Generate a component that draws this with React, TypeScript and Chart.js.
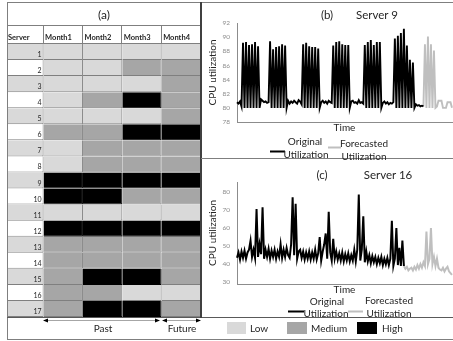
import React, { useEffect, useRef } from 'react';
import { Chart, registerables } from 'chart.js';

Chart.register(...registerables);

const FONT = 'Lato, "Liberation Sans", Arial, sans-serif';
const TEXT = '#262626';
const AXIS = '#8c8c8c';

// ---------- (a) table ----------
const servers = ['1', '2', '3', '4', '5', '6', '7', '8', '9', '10', '11', '12', '13', '14', '15', '16', '17'];
const columnHeaders = ['Server', 'Month1', 'Month2', 'Month3', 'Month4'];
const month1 = ['Low', 'Low', 'Low', 'Low', 'Low', 'Medium', 'Low', 'Low', 'High', 'High', 'Low', 'High', 'Medium', 'Medium', 'Medium', 'Medium', 'Medium'];
const month2 = ['Low', 'Low', 'Low', 'Medium', 'Low', 'Medium', 'Medium', 'Medium', 'High', 'High', 'Low', 'High', 'Medium', 'Medium', 'High', 'Medium', 'High'];
const month3 = ['Low', 'Medium', 'Low', 'High', 'Low', 'High', 'Medium', 'Medium', 'High', 'Medium', 'Low', 'High', 'Medium', 'Medium', 'High', 'Low', 'High'];
const month4 = ['Low', 'Medium', 'Medium', 'Medium', 'Medium', 'High', 'Medium', 'Medium', 'High', 'Medium', 'Low', 'High', 'Medium', 'Medium', 'Medium', 'Low', 'Medium'];
const levelNames = ['Low', 'Medium', 'High'];
const levelColors = ['#d9d9d9', '#a6a6a6', '#000000'];

// ---------- (b) Server 9 ----------
const server9Original = [
  80.8, 80.6, 80.9, 80.2,
  89.2, 80, 89.3, 80, 88.9, 80, 89.0, 80, 89.3, 80, 88.7, 80,
  81.2, 81.0, 80.8, 80.9, 80.7, 80.8,
  89.4, 80, 88.3, 80, 88.6, 80, 88.7, 80, 89.0, 80, 88.8, 80,
  81.0, 80.6, 80.9, 80.7, 81.0, 80.8, 80.6, 81.1, 80.9, 80.5,
  89.0, 80, 89.2, 80, 88.7, 80, 88.6, 80, 88.6, 80, 88.4, 80,
  80.8, 81.0, 80.7, 80.9, 80.6, 81.0, 80.8, 80.7,
  88.8, 80, 89.3, 80, 89.4, 80, 89.0, 80, 88.9, 80, 88.9, 80,
  80.9, 81.0, 80.7, 80.8, 80.6, 81.1, 80.7, 80.8, 80.6,
  88.9, 80, 89.3, 80, 89.6, 80, 88.9, 80, 89.3, 80, 89.3, 80,
  80.7, 80.9, 80.6, 80.8, 80.5, 80.7, 80.6, 80.8,
  89.8, 80, 90.2, 80, 90.6, 80, 91.2, 80, 88.8, 80, 86.8, 80, 86.4, 80,
  80.5, 80.3, 80.4, 80.2, 80.3, 80.2,
];
const server9Forecast = [80.2, 89.0, 80, 90.1, 80, 89.0, 80, 88.1, 80, 80.2, 81, 81, 81, 80, 80, 80, 80.8, 80.8, 80.8, 80];
const server9Range = [78, 92, 2];

// ---------- (c) Server 16 ----------
const server16Original = [
  43.5, 46.5, 42.5, 47, 43.5, 47.5, 43, 46.5, 48, 53,
  44, 48, 43.5, 70.5, 44, 51, 45.5, 71.5, 43, 48,
  44, 48.5, 43, 47.5, 44, 48, 43, 47, 44, 51,
  43.5, 48, 44, 49, 45, 43.5, 51, 77, 45, 73.5,
  43, 47, 48, 43.5, 47, 42.5, 46.5, 43, 47, 42.5,
  46.5, 43, 48, 42.5, 46, 55, 42, 47, 51, 57,
  43, 69, 46.5, 42, 54, 43, 47, 42.5, 46, 42,
  46.5, 41.5, 45.5, 42, 46, 41.5, 45, 42, 48, 41.5,
  48, 78.5, 42, 48, 66.5, 41, 47, 41.5, 45, 40.5,
  44.5, 41, 44, 40, 43.5, 40.5, 44, 39.5, 43, 40,
  43.5, 39.5, 43, 64, 39, 43, 60, 39.5, 49, 39,
  53, 39,
];
const server16Forecast = [
  39, 37.5, 38.5, 36.5, 37.5, 38, 36.5, 38.5, 37, 39.5,
  37.5, 40, 38, 41, 39, 58, 40, 43, 60, 40,
  44, 39, 43, 38, 37, 36.5, 38, 36, 37.5, 38.5,
  36, 35, 34,
];
const server16Range = [29, 85.5, 10];

const tableDecor = {
  id: 'tableDecor',
  afterDraw(chart: any) {
    const { ctx, chartArea, scales } = chart;
    const { left, right, top } = chartArea;
    const x = scales.x;
    const y = scales.y;
    const h = 19;
    ctx.save();
    ctx.strokeStyle = '#7f7f7f';
    ctx.lineWidth = 1;
    ctx.beginPath();
    ctx.moveTo(left, Math.round(top - h) + 0.5);
    ctx.lineTo(right, Math.round(top - h) + 0.5);
    ctx.moveTo(left, Math.round(top) - 0.5);
    ctx.lineTo(right, Math.round(top) - 0.5);
    for (let k = 1; k <= 5; k++) {
      const px = Math.round(x.getPixelForValue(k)) - 0.5;
      ctx.moveTo(px, top - h);
      ctx.lineTo(px, top);
    }
    ctx.stroke();
    ctx.fillStyle = TEXT;
    ctx.font = `bold 7.5px ${FONT}`;
    ctx.textBaseline = 'middle';
    ctx.textAlign = 'left';
    columnHeaders.forEach((t, k) => {
      const px = k === 0 ? left + 1 : x.getPixelForValue(k) + 1.5;
      ctx.fillText(t, px, top - 6);
    });
    ctx.font = `7px ${FONT}`;
    ctx.textAlign = 'right';
    ctx.textBaseline = 'alphabetic';
    const rowH = (chartArea.bottom - top) / servers.length;
    servers.forEach((s, i) => {
      const yc = y.getPixelForValue(i);
      ctx.fillText(s, x.getPixelForValue(1) - 2, yc + rowH / 2 - 3);
    });
    ctx.restore();
  },
};

function TableChart() {
  const ref = useRef<HTMLCanvasElement>(null);
  useEffect(() => {
    const months = [month1, month2, month3, month4];
    const colorOf = (l: string) => levelColors[levelNames.indexOf(l)];
    const common = {
      borderWidth: { top: 0, left: 0, right: 1, bottom: 1 },
      borderSkipped: false,
      barPercentage: 1,
      categoryPercentage: 1,
      clip: 0,
      inflateAmount: 0,
    };
    const datasets: any[] = [
      {
        label: columnHeaders[0],
        data: servers.map(() => 1),
        backgroundColor: servers.map((_, i) => (i % 2 === 0 ? '#d9d9d9' : '#ffffff')),
        borderColor: '#7f7f7f',
        ...common,
      },
      ...months.map((m, k) => ({
        label: columnHeaders[k + 1],
        data: m.map(() => 1),
        backgroundColor: m.map(colorOf),
        borderColor: m.map((l) => (l === 'High' ? '#000000' : '#7f7f7f')),
        ...common,
      })),
    ];
    const chart = new Chart(ref.current as HTMLCanvasElement, {
      type: 'bar',
      data: { labels: servers, datasets },
      options: {
        indexAxis: 'y',
        animation: false,
        responsive: false,
        maintainAspectRatio: false,
        layout: { padding: 0 },
        plugins: {
          legend: { display: false },
          tooltip: { enabled: false },
          title: {
            display: true,
            text: '(a)',
            color: TEXT,
            font: { family: FONT, size: 12, weight: 'normal' },
            padding: { top: 6, bottom: 21.6 },
          },
        },
        scales: {
          x: { type: 'linear', stacked: true, min: 0.07, max: 5, display: false },
          y: { stacked: true, display: false },
        },
      } as any,
      plugins: [tableDecor],
    });
    return () => chart.destroy();
  }, []);
  return (
    <canvas ref={ref} width={194} height={315} style={{ position: 'absolute', left: 7, top: 2, width: 194, height: 315 }} />
  );
}

function LineChart(props: { top: number; height: number; orig: number[]; fore: number[]; range: number[]; padTop: number; padBottom: number; lw: number }) {
  const ref = useRef<HTMLCanvasElement>(null);
  useEffect(() => {
    const { orig, fore, range, padTop, padBottom, lw } = props;
    const n = orig.length + fore.length - 1;
    const labels = Array.from({ length: n }, (_, i) => String(i));
    const o = [...orig, ...Array(n - orig.length).fill(null)];
    const f = [...Array(n - fore.length).fill(null), ...fore];
    const step = range[2];
    const chart = new Chart(ref.current as HTMLCanvasElement, {
      type: 'line',
      data: {
        labels,
        datasets: [
          { label: 'Original Utilization', data: o, borderColor: '#000000', borderWidth: lw, pointRadius: 0, tension: 0, fill: false },
          { label: 'Forecasted Utilization', data: f, borderColor: '#bfbfbf', borderWidth: lw, pointRadius: 0, tension: 0, fill: false },
        ],
      },
      options: {
        animation: false,
        responsive: false,
        maintainAspectRatio: false,
        layout: { padding: { top: padTop, bottom: padBottom, left: 0, right: 1 } },
        plugins: { legend: { display: false }, tooltip: { enabled: false } },
        scales: {
          x: {
            grid: { display: false, drawTicks: false },
            ticks: { display: false },
            border: { display: true, color: AXIS, width: 1 },
            title: { display: true, text: 'Time', color: TEXT, font: { family: FONT, size: 10 }, padding: 0 },
            afterFit: (s: any) => {
              s.height = 12;
            },
          },
          y: {
            min: range[0],
            max: range[1],
            grid: { display: false, drawTicks: false },
            border: { display: true, color: AXIS, width: 1 },
            ticks: {
              stepSize: step,
              includeBounds: false,
              color: '#8c8c8c',
              font: { family: FONT, size: 6.5 },
              padding: 7,
              callback: (v: any) => (Number(v) % step === 0 ? String(v) : ''),
            },
            title: {
              display: true,
              text: 'CPU utilization',
              color: TEXT,
              font: { family: FONT, size: 10 },
              padding: { top: 6, bottom: 0 },
            },
            afterFit: (s: any) => {
              s.width = 36;
            },
          },
        },
      } as any,
    });
    return () => chart.destroy();
  }, []);
  return (
    <canvas
      ref={ref}
      width={252}
      height={props.height}
      style={{ position: 'absolute', left: 201, top: props.top, width: 252, height: props.height }}
    />
  );
}

function T(p: { x: number; y: number; s: string; size?: number; align?: 'center' | 'left' }) {
  return (
    <div
      style={{
        position: 'absolute',
        left: p.x,
        top: p.y,
        transform: p.align === 'left' ? 'translate(0,-50%)' : 'translate(-50%,-50%)',
        fontFamily: FONT,
        fontSize: p.size ?? 10,
        color: TEXT,
        whiteSpace: 'nowrap',
        lineHeight: 1,
      }}
    >
      {p.s}
    </div>
  );
}

export default function App() {
  return (
    <div style={{ position: 'fixed', left: 0, top: 0, width: 453, height: 341, background: '#ffffff', overflow: 'hidden' }}>
      <TableChart />
      <LineChart top={2} height={156} orig={server9Original} fore={server9Forecast} range={server9Range} padTop={21} padBottom={24} lw={1.9} />
      <LineChart top={159} height={158} orig={server16Original} fore={server16Forecast} range={server16Range} padTop={23} padBottom={21} lw={2} />
      <svg width={453} height={341} style={{ position: 'absolute', left: 0, top: 0, pointerEvents: 'none' }}>
        <line x1={7} y1={2.5} x2={453} y2={2.5} stroke="#7f7f7f" strokeWidth={1} />
        <line x1={7.5} y1={2} x2={7.5} y2={340} stroke="#7f7f7f" strokeWidth={1} />
        <line x1={7} y1={339.5} x2={453} y2={339.5} stroke="#7f7f7f" strokeWidth={1} />
        <line x1={7} y1={317.5} x2={453} y2={317.5} stroke="#595959" strokeWidth={1} />
        <line x1={201} y1={2} x2={201} y2={318} stroke="#404040" strokeWidth={2} />
        <line x1={201} y1={158.5} x2={453} y2={158.5} stroke="#7f7f7f" strokeWidth={1} />
        {/* legend (b) */}
        <line x1={270} y1={151.5} x2={285} y2={151.5} stroke="#000" strokeWidth={2} />
        <line x1={328} y1={147.5} x2={341} y2={147.5} stroke="#bfbfbf" strokeWidth={2} />
        {/* legend (c) */}
        <line x1={288} y1={311.5} x2={304} y2={311.5} stroke="#000" strokeWidth={2} />
        <line x1={348} y1={311.5} x2={363} y2={311.5} stroke="#bfbfbf" strokeWidth={2} />
        {/* past / future arrows */}
        <line x1={44} y1={320.5} x2={159} y2={320.5} stroke="#a6a6a6" strokeWidth={1} />
        <polygon points="43,320.5 48,318.5 48,322.5" fill="#000" />
        <polygon points="160,320.5 155,318.5 155,322.5" fill="#000" />
        <line x1={163} y1={320.5} x2={200} y2={320.5} stroke="#a6a6a6" strokeWidth={1} />
        <polygon points="162,320.5 167,318.5 167,322.5" fill="#000" />
        <polygon points="201,320.5 196,318.5 196,322.5" fill="#000" />
        {/* level legend */}
        <rect x={227} y={322} width={19} height={12} fill={levelColors[0]} />
        <rect x={287} y={322} width={20} height={12} fill={levelColors[1]} />
        <rect x={357} y={322} width={20} height={12} fill={levelColors[2]} />
      </svg>
      <T x={327} y={15} s="(b)" size={11.5} />
      <T x={377} y={15} s="Server 9" size={11.5} />
      <T x={305} y={141} s="Original" />
      <T x={306} y={154} s="Utilization" />
      <T x={364} y={143} s="Forecasted" />
      <T x={364} y={156} s="Utilization" />
      <T x={322} y={175} s="(c)" size={11.5} />
      <T x={388} y={175} s="Server 16" size={11.5} />
      <T x={327} y={301} s="Original" />
      <T x={326} y={313} s="Utilization" />
      <T x={389} y={300} s="Forecasted" />
      <T x={389} y={313} s="Utilization" />
      <T x={103} y={328} s="Past" />
      <T x={182} y={328} s="Future" />
      <T x={250} y={328} s={levelNames[0]} align="left" />
      <T x={311} y={328} s={levelNames[1]} align="left" />
      <T x={382} y={328} s={levelNames[2]} align="left" />
    </div>
  );
}
